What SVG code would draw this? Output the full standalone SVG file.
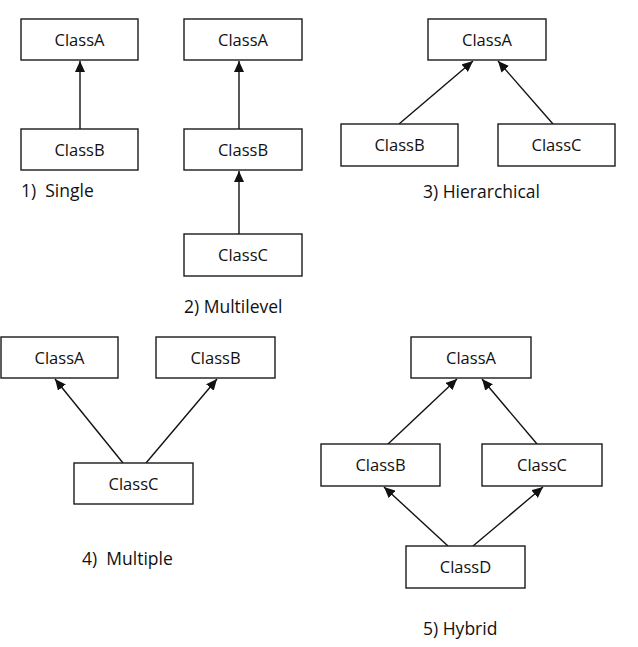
<svg xmlns="http://www.w3.org/2000/svg" width="638" height="647" viewBox="0 0 638 647">
<style>
.box{fill:#fff;stroke:#1a1a1a;stroke-width:1.4}
.t{font-family:"Open Sans","Liberation Sans",Arial,sans-serif;font-size:16.5px;fill:#111;text-anchor:middle}
.lbl{font-family:"Open Sans","Liberation Sans",Arial,sans-serif;font-size:17.5px;fill:#111}
.c{stroke:#111;stroke-width:1.4;fill:none;marker-end:url(#ah)}
</style>
<defs>
<marker id="ah" markerUnits="userSpaceOnUse" markerWidth="12" markerHeight="10" refX="11" refY="5" orient="auto" viewBox="0 0 12 10">
<path d="M0,0 L11,5 L0,10 z" fill="#111"/>
</marker>
</defs>
<rect width="638" height="647" fill="#fff"/>
<g id="connectors">
<line class="c" x1="80" y1="129" x2="80" y2="61"/>
<line class="c" x1="239" y1="129" x2="239" y2="61"/>
<line class="c" x1="239" y1="234" x2="239" y2="171"/>
<line class="c" x1="399" y1="124" x2="473" y2="61"/>
<line class="c" x1="553" y1="124" x2="498" y2="61"/>
<line class="c" x1="123" y1="463" x2="55" y2="379"/>
<line class="c" x1="146" y1="463" x2="217" y2="379"/>
<line class="c" x1="388" y1="444" x2="457" y2="379"/>
<line class="c" x1="537" y1="444" x2="482" y2="379"/>
<line class="c" x1="448" y1="546" x2="384" y2="487"/>
<line class="c" x1="473" y1="546" x2="543" y2="487"/>
</g>
<g id="s1-classA"><rect class="box" x="21" y="19" width="117" height="41"/><text class="t" x="79.5" y="46">ClassA</text></g>
<g id="s1-classB"><rect class="box" x="21" y="129" width="117" height="41"/><text class="t" x="79.5" y="156">ClassB</text></g>
<g id="m2-classA"><rect class="box" x="184" y="19" width="118" height="41"/><text class="t" x="243" y="46">ClassA</text></g>
<g id="m2-classB"><rect class="box" x="184" y="129" width="118" height="41"/><text class="t" x="243" y="156">ClassB</text></g>
<g id="m2-classC"><rect class="box" x="184" y="234" width="118" height="42"/><text class="t" x="243" y="261">ClassC</text></g>
<g id="h3-classA"><rect class="box" x="428" y="19" width="118" height="41"/><text class="t" x="487" y="46">ClassA</text></g>
<g id="h3-classB"><rect class="box" x="341" y="124" width="117" height="42"/><text class="t" x="399.5" y="151">ClassB</text></g>
<g id="h3-classC"><rect class="box" x="498" y="124" width="117" height="42"/><text class="t" x="556.5" y="151">ClassC</text></g>
<g id="mu4-classA"><rect class="box" x="1" y="337" width="117" height="41"/><text class="t" x="59.5" y="364">ClassA</text></g>
<g id="mu4-classB"><rect class="box" x="156" y="337" width="119" height="41"/><text class="t" x="215.5" y="364">ClassB</text></g>
<g id="mu4-classC"><rect class="box" x="74" y="463" width="119" height="41"/><text class="t" x="133.5" y="490">ClassC</text></g>
<g id="hy5-classA"><rect class="box" x="411" y="337" width="120" height="41"/><text class="t" x="471" y="364">ClassA</text></g>
<g id="hy5-classB"><rect class="box" x="321" y="444" width="119" height="42"/><text class="t" x="380.5" y="471">ClassB</text></g>
<g id="hy5-classC"><rect class="box" x="482" y="444" width="120" height="42"/><text class="t" x="542" y="471">ClassC</text></g>
<g id="hy5-classD"><rect class="box" x="406" y="546" width="119" height="42"/><text class="t" x="465.5" y="573">ClassD</text></g>
<g id="labels">
<text class="lbl" x="21" y="197" xml:space="preserve">1)  Single</text>
<text class="lbl" x="184" y="313">2) Multilevel</text>
<text class="lbl" x="423" y="198">3) Hierarchical</text>
<text class="lbl" x="82" y="565" xml:space="preserve">4)  Multiple</text>
<text class="lbl" x="423" y="635">5) Hybrid</text>
</g>
</svg>
